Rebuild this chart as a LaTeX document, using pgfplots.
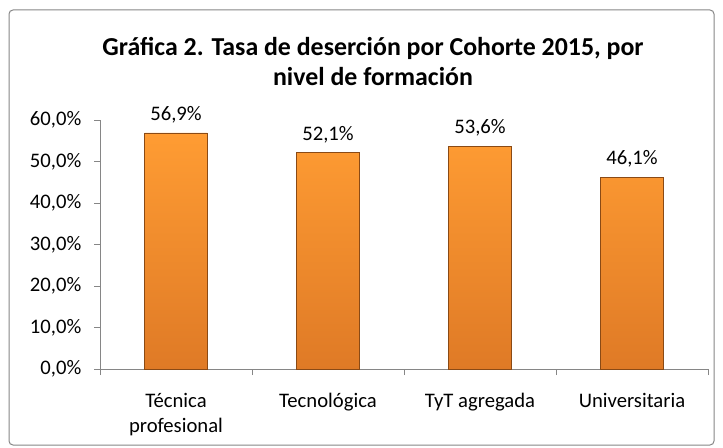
\documentclass[border=0pt]{standalone}
\usepackage{fontspec}
\setmainfont{Carlito}
\usepackage{pgfplots}
\pgfplotsset{compat=1.18}
\definecolor{axgray}{HTML}{868686}
\definecolor{bartop}{HTML}{FF9C33}
\definecolor{barbot}{HTML}{DF7A26}
\definecolor{baredge}{HTML}{8A4A15}
\begin{document}
\begin{tikzpicture}
\path[use as bounding box] (0pt,0pt) rectangle (542.25pt,335.25pt);
\draw[axgray, line width=0.75pt, rounded corners=3pt] (6.75pt,1.5pt) rectangle (535.5pt,327.75pt);
\node[font=\bfseries\fontsize{19.4}{22.5}\selectfont, align=center, anchor=center] at (279.75pt,288.75pt) {Gráfica 2. Tasa de deserción por Cohorte 2015, por\\nivel de formación};
\begin{axis}[at={(75pt,58.5pt)}, anchor=south west, scale only axis,
  width=456pt, height=186.75pt,
  xmin=-0.5, xmax=3.5, ymin=0, ymax=60,
  axis x line*=bottom, axis y line*=left,
  axis line style={axgray, line width=0.75pt},
  tick align=outside,
  ytick={0,10,20,30,40,50,60},
  yticklabels={{0,0\%},{10,0\%},{20,0\%},{30,0\%},{40,0\%},{50,0\%},{60,0\%}},
  ytick style={axgray, line width=0.75pt},
  major tick length=4.5pt,
  xtick={0,1,2,3},
  xticklabels={{\strut Técnica\\profesional},{\strut Tecnológica},{\strut TyT agregada},{\strut Universitaria}},
  xtick style={draw=none},
  extra x ticks={-0.5,0.5,1.5,2.5,3.5},
  extra x tick labels={},
  extra x tick style={xtick style={draw=axgray, line width=0.75pt}},
  tick label style={font=\fontsize{15.5}{18.75}\selectfont, text=black},
  xticklabel style={align=center, anchor=north, yshift=-8pt},
  yticklabel style={xshift=-6pt},
]
\addplot[ybar, bar width=47pt, draw=baredge, line width=0.5pt,
  top color=bartop, bottom color=barbot,
  nodes near coords, point meta=explicit symbolic,
  nodes near coords style={font=\fontsize{15.5}{18.75}\selectfont, text=black, anchor=south, yshift=4pt}]
  coordinates {(0,56.9)[56,9\%] (1,52.1)[52,1\%] (2,53.6)[53,6\%] (3,46.1)[46,1\%]};
\end{axis}
\end{tikzpicture}
\end{document}
